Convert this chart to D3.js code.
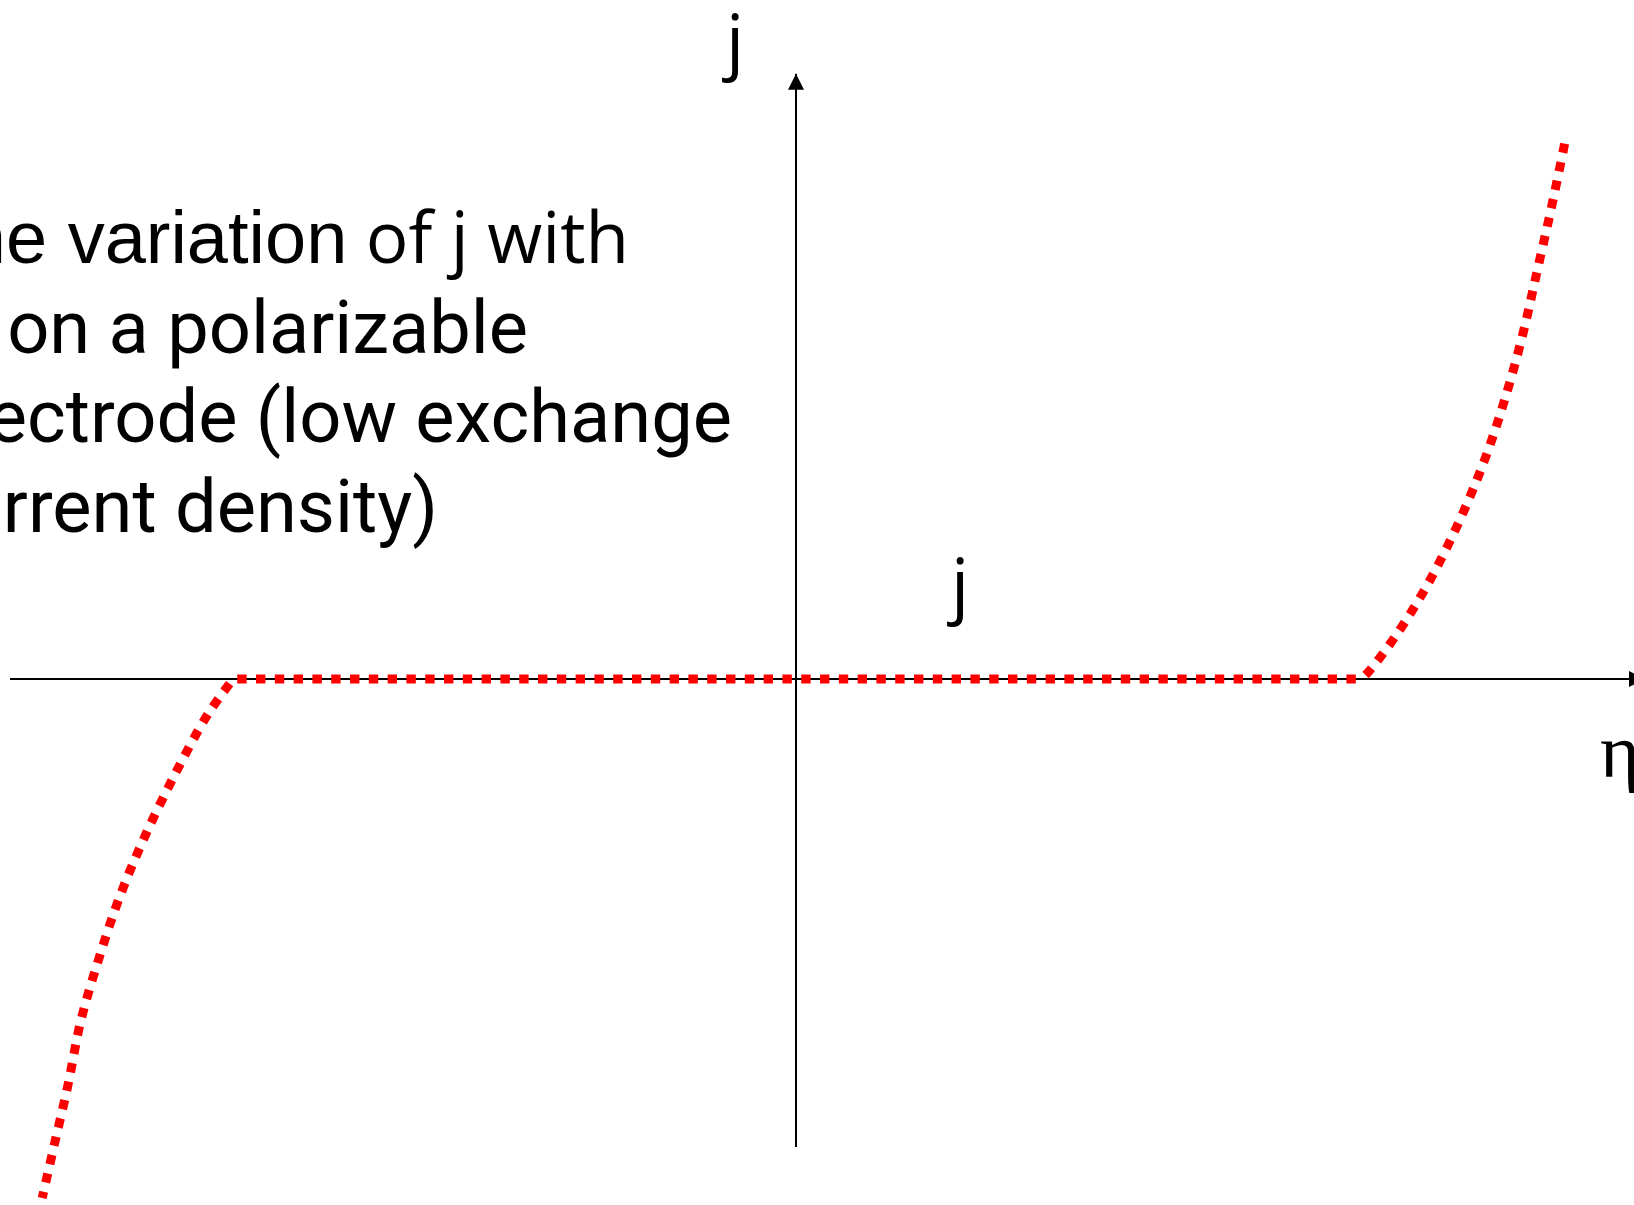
<!DOCTYPE html>
<html>
<head>
<meta charset="utf-8">
<script src="https://cdn.jsdelivr.net/npm/d3@7"></script>
<style>
  html, body { margin: 0; padding: 0; background: #fff; overflow: hidden; }
  svg { display: block; }
</style>
</head>
<body>
<svg id="chart" width="1634" height="1205"></svg>
<script>
// Overpotential (eta) and current density (j), arbitrary units.
// Flat region: ideally polarizable window where almost no current flows.
const etaWindow = [-0.716, 0.719];
const jWindow = [0, 0];

// Cathodic branch (negative overpotential), starting at the window edge.
const etaCathodic = [-0.716, -0.748, -0.788, -0.827, -0.860, -0.887, -0.910, -0.926, -0.944, -0.959];
const jCathodic   = [0, -0.067, -0.177, -0.298, -0.417, -0.538, -0.658, -0.779, -0.898, -0.998];

// Anodic branch (positive overpotential), starting at the window edge.
const etaAnodic = [0.719, 0.728, 0.763, 0.804, 0.844, 0.877, 0.903, 0.925, 0.943, 0.961, 0.978];
const jAnodic   = [0, 0.013, 0.083, 0.183, 0.304, 0.425, 0.544, 0.665, 0.785, 0.906, 1.030];

// Axis labels and caption text.
const axisLabels = { x: "η", y: "j", curve: "j" };
const captionLines = [
  "The variation of j with",
  "η on a polarizable",
  "electrode (low exchange",
  "current density)"
];

const svg = d3.select("#chart");

const x = d3.scaleLinear().domain([-1, 1]).range([10, 1582]);
const y = d3.scaleLinear().domain([-1, 1]).range([1199, 159]);

// Arrowhead marker for the axes
const defs = svg.append("defs");
defs.append("marker")
  .attr("id", "arrow")
  .attr("viewBox", "0 0 10 10")
  .attr("refX", 10).attr("refY", 5)
  .attr("markerWidth", 16).attr("markerHeight", 16)
  .attr("markerUnits", "userSpaceOnUse")
  .attr("orient", "auto")
  .append("path")
  .attr("d", "M0,0 L10,5 L0,10 Z")
  .attr("fill", "#000");

// Horizontal (eta) axis
svg.append("line")
  .attr("x1", x(-1)).attr("y1", y(0))
  .attr("x2", x(1.08)).attr("y2", y(0))
  .attr("stroke", "#000").attr("stroke-width", 2)
  .attr("marker-end", "url(#arrow)");

// Vertical (j) axis
svg.append("line")
  .attr("x1", x(0)).attr("y1", y(-0.9))
  .attr("x2", x(0)).attr("y2", y(1.164))
  .attr("stroke", "#000").attr("stroke-width", 2)
  .attr("marker-end", "url(#arrow)");

// Dotted red current curve
const line = d3.line()
  .x(d => x(d[0]))
  .y(d => y(d[1]))
  .curve(d3.curveCatmullRom.alpha(0.5));

const curveStyle = sel => sel
  .attr("fill", "none")
  .attr("stroke", "#ff0000")
  .attr("stroke-width", 9)
  .attr("stroke-dasharray", "9.4 9.4");

svg.append("path")
  .datum(d3.zip(etaWindow, jWindow))
  .attr("d", line)
  .call(curveStyle)
  .attr("stroke-dashoffset", -4);

svg.append("path")
  .datum(d3.zip(etaCathodic, jCathodic))
  .attr("d", line)
  .call(curveStyle)
  .attr("stroke-dashoffset", -6);

svg.append("path")
  .datum(d3.zip(etaAnodic, jAnodic))
  .attr("d", line)
  .call(curveStyle)
  .attr("stroke-dashoffset", -6);

// Axis labels
svg.append("text")
  .attr("x", x(0) - 70).attr("y", 66)
  .attr("font-family", "'Open Sans', sans-serif")
  .attr("font-size", 72)
  .text(axisLabels.y);

svg.append("text")
  .attr("x", x(0) + 155).attr("y", 610)
  .attr("font-family", "'Open Sans', sans-serif")
  .attr("font-size", 72)
  .text(axisLabels.curve);

svg.append("text")
  .attr("x", 1600).attr("y", 777)
  .attr("font-family", "'Liberation Serif', serif")
  .attr("font-size", 76)
  .text(axisLabels.x);

// Caption block, right-aligned per line
const lineEnds = [629, 528, 732, 438];
const baselines = [263, 353, 442, 532];
const caption = svg.append("g");
captionLines.forEach((txt, i) => {
  const t = caption.append("text")
    .attr("x", lineEnds[i]).attr("y", baselines[i])
    .attr("text-anchor", "end")
    .attr("font-size", 74)
    .attr("fill", "#000");
  if (i === 0) {
    const k = txt.indexOf(" of");
    t.append("tspan").attr("font-family", "'Liberation Sans', Arial, sans-serif").attr("font-size", 74).text(txt.slice(0, k));
    t.append("tspan").attr("font-family", "'Open Sans', sans-serif").attr("font-size", 71).text(txt.slice(k));
  } else {
    t.attr("font-family", "Roboto, sans-serif").text(txt);
  }
});
</script>
</body>
</html>
